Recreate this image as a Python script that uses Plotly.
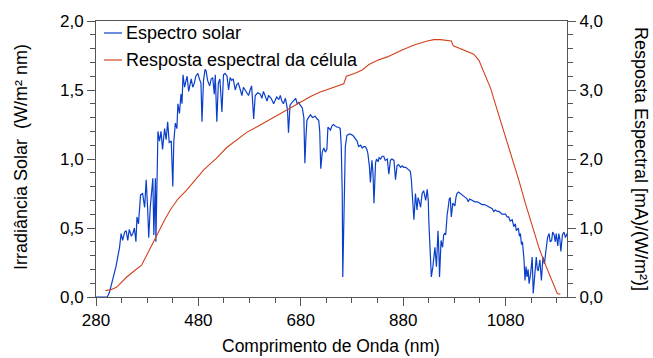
import plotly.graph_objects as go

# Solar spectral irradiance (W/m² nm) vs wavelength (nm)
wl_solar = [
    280, 290, 302, 306, 311, 316, 319, 323, 326, 329, 332, 336, 339, 342, 345, 349,
    352, 355, 358, 360, 363, 367, 371, 375, 378, 381, 383, 386, 389, 391, 393, 396,
    397, 399, 401, 404, 407, 410, 414, 417, 420, 423, 427, 430, 432, 435, 438, 440,
    443, 446, 448, 450, 453, 456, 458, 461, 464, 466, 469, 472, 475, 479, 482, 485,
    487, 490, 493, 495, 498, 502, 505, 508, 511, 513, 516, 519, 522, 526, 529, 532,
    536, 539, 542, 545, 548, 552, 555, 558, 562, 565, 568, 571, 575, 578, 581, 584,
    588, 591, 596, 601, 604, 607, 611, 614, 617, 622, 627, 630, 633, 637, 640, 643,
    646, 650, 654, 656, 659, 663, 666, 670, 673, 676, 679, 683, 686, 688, 690, 692,
    695, 699, 703, 708, 712, 715, 717, 719, 722, 725, 728, 731, 733, 736, 738, 741,
    744, 747, 751, 754, 757, 759, 761, 762, 763, 764, 766, 767, 770, 774, 777, 782,
    787, 790, 793, 797, 800, 803, 806, 809, 811, 814, 816, 819, 821, 823, 826, 828,
    831, 833, 836, 839, 842, 845, 849, 852, 855, 858, 862, 865, 868, 871, 875, 878,
    881, 885, 888, 891, 894, 896, 898, 901, 904, 907, 909, 911, 914, 917, 920, 922,
    924, 927, 929, 930, 932, 933, 935, 938, 940, 942, 945, 948, 950, 951, 954, 957,
    959, 961, 963, 964, 966, 968, 970, 972, 974, 977, 981, 983, 985, 988, 992, 995,
    998, 1002, 1005, 1007, 1010, 1015, 1020, 1025, 1030, 1034, 1039, 1044, 1049, 1054, 1057, 1060,
    1064, 1067, 1070, 1073, 1077, 1080, 1083, 1086, 1089, 1093, 1096, 1099, 1101, 1105, 1107, 1109,
    1111, 1113, 1116, 1118, 1120, 1122, 1124, 1126, 1129, 1132, 1134, 1137, 1140, 1142, 1144, 1147,
    1150, 1153, 1156, 1158, 1160, 1162, 1165, 1167, 1170, 1172, 1175, 1177, 1179, 1182, 1184, 1186,
    1188, 1191, 1194, 1197, 1200,
]
irr_solar = [
    0.00, 0.00, 0.00, 0.03, 0.10, 0.17, 0.22, 0.30, 0.36, 0.46, 0.41, 0.47, 0.48, 0.41, 0.49, 0.44,
    0.46, 0.50, 0.40, 0.58, 0.53, 0.74, 0.75, 0.65, 0.85, 0.63, 0.43, 0.65, 0.78, 0.86, 0.45, 0.86,
    0.40, 0.85, 1.20, 1.13, 1.20, 1.07, 1.22, 1.14, 1.27, 1.12, 1.13, 0.80, 1.13, 1.26, 1.22, 1.40,
    1.33, 1.47, 1.40, 1.61, 1.52, 1.57, 1.60, 1.49, 1.56, 1.58, 1.52, 1.55, 1.60, 1.62, 1.58, 1.55,
    1.27, 1.57, 1.65, 1.64, 1.57, 1.53, 1.58, 1.59, 1.47, 1.61, 1.27, 1.55, 1.58, 1.34, 1.61, 1.62,
    1.60, 1.50, 1.59, 1.57, 1.58, 1.50, 1.54, 1.55, 1.50, 1.46, 1.52, 1.50, 1.48, 1.46, 1.50, 1.53,
    1.29, 1.46, 1.48, 1.47, 1.44, 1.49, 1.45, 1.42, 1.46, 1.44, 1.40, 1.43, 1.45, 1.43, 1.46, 1.42,
    1.40, 1.44, 1.36, 1.19, 1.39, 1.41, 1.42, 1.44, 1.40, 1.41, 1.39, 1.37, 1.30, 0.97, 1.15, 1.28,
    1.30, 1.32, 1.30, 1.31, 1.29, 1.28, 1.20, 0.93, 1.05, 1.08, 1.05, 1.07, 1.23, 1.22, 1.21, 1.24,
    1.25, 1.24, 1.23, 1.23, 1.22, 1.10, 0.75, 0.145, 0.30, 0.385, 0.90, 1.09, 1.17, 1.18, 1.18, 1.17,
    1.15, 1.13, 1.09, 1.10, 1.08, 1.09, 1.09, 1.07, 1.04, 0.95, 0.83, 0.99, 0.90, 0.68, 0.97, 1.00,
    0.98, 1.01, 1.00, 1.02, 1.02, 0.99, 1.00, 0.89, 0.99, 1.00, 0.99, 0.85, 0.95, 0.96, 0.94, 0.95,
    0.94, 0.94, 0.93, 0.92, 0.91, 0.85, 0.70, 0.56, 0.75, 0.63, 0.72, 0.70, 0.65, 0.75, 0.77, 0.72,
    0.70, 0.78, 0.70, 0.56, 0.40, 0.27, 0.145, 0.22, 0.30, 0.36, 0.22, 0.48, 0.30, 0.145, 0.41, 0.36,
    0.45, 0.46, 0.45, 0.53, 0.60, 0.65, 0.71, 0.72, 0.58, 0.68, 0.66, 0.72, 0.75, 0.76, 0.75, 0.74,
    0.73, 0.72, 0.71, 0.69, 0.71, 0.70, 0.69, 0.69, 0.68, 0.67, 0.67, 0.66, 0.65, 0.64, 0.62, 0.63,
    0.62, 0.62, 0.61, 0.60, 0.60, 0.60, 0.58, 0.58, 0.55, 0.56, 0.51, 0.53, 0.48, 0.50, 0.44, 0.46,
    0.38, 0.40, 0.27, 0.12, 0.22, 0.145, 0.20, 0.097, 0.17, 0.29, 0.025, 0.145, 0.29, 0.20, 0.19, 0.27,
    0.12, 0.29, 0.24, 0.31, 0.38, 0.43, 0.46, 0.40, 0.41, 0.47, 0.45, 0.40, 0.46, 0.37, 0.46, 0.42,
    0.33, 0.45, 0.47, 0.43, 0.46,
]

# Cell spectral response (mA)/(W/m²) vs wavelength (nm)
wl_resp = [
    298, 310, 320, 330, 340, 355, 369, 380, 392, 405, 415, 425, 440, 457, 469, 480,
    490, 503, 515, 536, 555, 575, 600, 633, 655, 679, 700, 718, 738, 764, 769, 785,
    800, 813, 830, 849, 878, 900, 927, 940, 953, 965, 974, 978, 998, 1018, 1028, 1040,
    1051, 1060, 1070, 1080, 1093, 1106, 1119, 1132, 1145, 1155, 1165, 1175, 1181, 1187,
]
resp = [
    0.09, 0.11, 0.14, 0.21, 0.29, 0.38, 0.46, 0.62, 0.80, 0.99, 1.13, 1.26, 1.42, 1.55, 1.65, 1.75,
    1.84, 1.93, 2.01, 2.17, 2.28, 2.39, 2.49, 2.63, 2.73, 2.83, 2.91, 2.97, 3.02, 3.09, 3.20, 3.24,
    3.29, 3.37, 3.43, 3.48, 3.58, 3.65, 3.71, 3.73, 3.73, 3.72, 3.71, 3.64, 3.58, 3.52, 3.43, 3.22,
    3.02, 2.80, 2.56, 2.35, 2.03, 1.69, 1.35, 1.03, 0.72, 0.52, 0.34, 0.17, 0.05, 0.04,
]

series_names = ["Espectro solar", "Resposta espectral da célula"]
x_title = "Comprimento de Onda (nm)"
y_title = "Irradiância Solar  (W/m² nm)"
y2_title = "Resposta Espectral [mA)/(W/m²)]"

BLUE = "#0a3fcc"
RED = "#d2401c"
AXIS = "#555555"
FONT = "Arial, Liberation Sans, sans-serif"

W, H = 653, 358
ML, MR, MT, MB = 96, 86, 21, 61
PW, PH = W - ML - MR, H - MT - MB


def px_x(px):
    return (px - ML) / PW


def px_y(py):
    return (H - MB - py) / PH


fig = go.Figure()
fig.add_trace(go.Scatter(x=wl_solar, y=irr_solar, mode="lines",
                         line=dict(color=BLUE, width=1.2), name=series_names[0],
                         showlegend=False))
fig.add_trace(go.Scatter(x=wl_resp, y=resp, mode="lines", yaxis="y2",
                         line=dict(color=RED, width=1.1), name=series_names[1],
                         showlegend=False))

tick_font = dict(family=FONT, size=17, color="black")
axis_common = dict(showline=True, linecolor=AXIS, linewidth=1, ticks="outside",
                   tickcolor=AXIS, ticklen=8, tickwidth=1, showgrid=False,
                   zeroline=False, tickfont=tick_font)

fig.update_layout(
    width=W, height=H,
    margin=dict(l=ML, r=MR, t=MT, b=MB),
    paper_bgcolor="white", plot_bgcolor="white",
    separators=",.",
    font=dict(family=FONT, size=18, color="black"),
    xaxis=dict(range=[280, 1200], tick0=280, dtick=200, mirror=True,
               minor=dict(tick0=280, dtick=50, ticklen=5, ticks="outside",
                          tickcolor=AXIS),
               **axis_common),
    yaxis=dict(range=[0, 2.0], dtick=0.5, tickformat=".1f",
               minor=dict(dtick=0.1, ticklen=5, ticks="outside", tickcolor=AXIS),
               **axis_common),
    yaxis2=dict(range=[0, 4.0], dtick=1.0, tickformat=".1f", overlaying="y",
                side="right",
                minor=dict(dtick=0.2, ticklen=5, ticks="outside", tickcolor=AXIS),
                **axis_common),
)

# Legend drawn as short line samples with labels
legend_rows = [(33, BLUE, series_names[0]), (60, RED, series_names[1])]
for py, color, label in legend_rows:
    fig.add_shape(type="line", xref="paper", yref="paper",
                  x0=px_x(104), x1=px_x(122), y0=px_y(py), y1=px_y(py),
                  line=dict(color=color, width=1.2))
    fig.add_annotation(x=px_x(124), y=px_y(py), xref="paper", yref="paper",
                       text=label, showarrow=False, xanchor="left",
                       yanchor="middle", font=dict(size=18))

# Axis titles
fig.add_annotation(x=px_x(331), y=px_y(346), xref="paper", yref="paper",
                   text=x_title, showarrow=False, xanchor="center",
                   yanchor="middle", font=dict(size=17.5))
fig.add_annotation(x=px_x(21), y=px_y(157), xref="paper", yref="paper",
                   text=y_title, showarrow=False, textangle=-90,
                   xanchor="center", yanchor="middle", font=dict(size=18))
fig.add_annotation(x=px_x(641), y=px_y(159), xref="paper", yref="paper",
                   text=y2_title, showarrow=False, textangle=90,
                   xanchor="center", yanchor="middle", font=dict(size=18))

fig.write_html("out.html")
